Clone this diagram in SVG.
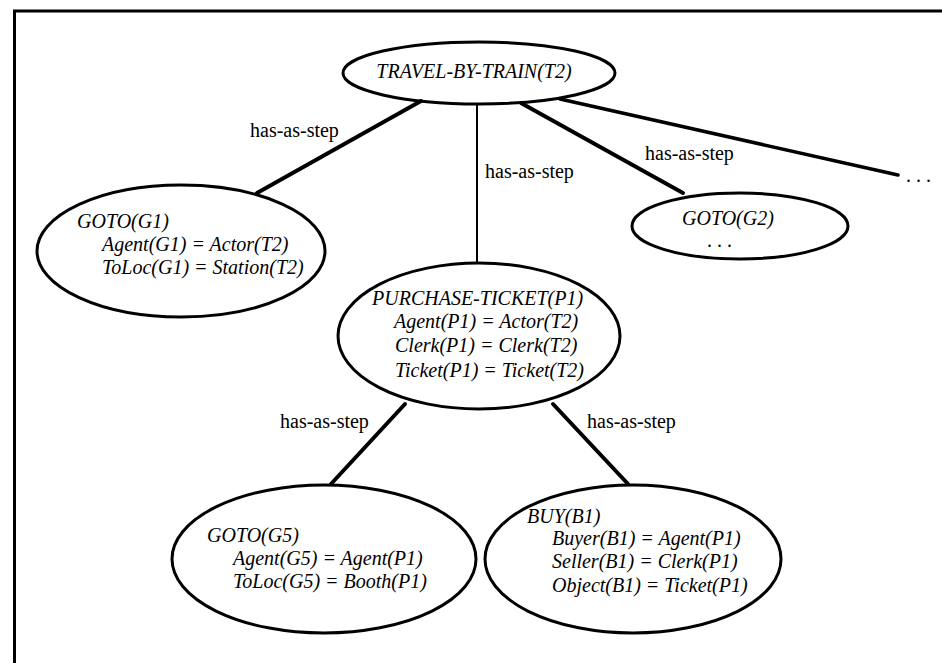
<svg xmlns="http://www.w3.org/2000/svg" width="942" height="663" viewBox="0 0 942 663">
  <style>
    .node { fill: none; stroke: #000; stroke-width: 3; }
    .t { font-family: "Liberation Serif", "Times New Roman", serif; font-size: 20px; font-style: italic; fill: #000; }
    .lbl { font-family: "Liberation Serif", "Times New Roman", serif; font-size: 20px; fill: #000; }
    .edge { stroke: #000; stroke-linecap: round; fill: none; }
  </style>
  <rect width="942" height="663" fill="#fff"/>

  <!-- frame -->
  <g id="frame" fill="none" stroke="#000" stroke-width="3">
    <path d="M14.5 663 V11 H942"/>
  </g>

  <!-- connectors -->
  <g id="connectors">
    <line class="edge" x1="421" y1="101" x2="257" y2="193" stroke-width="4"/>
    <line class="edge" x1="477" y1="105" x2="477" y2="263" stroke-width="2"/>
    <line class="edge" x1="521" y1="103" x2="683" y2="193" stroke-width="4"/>
    <line class="edge" x1="560" y1="99" x2="898" y2="175" stroke-width="3.5"/>
    <line class="edge" x1="405" y1="404" x2="331" y2="484" stroke-width="4"/>
    <line class="edge" x1="553" y1="404" x2="628" y2="484" stroke-width="4"/>
    <text class="lbl" x="250" y="137">has-as-step</text>
    <text class="lbl" x="485" y="178">has-as-step</text>
    <text class="lbl" x="645" y="160">has-as-step</text>
    <text class="lbl" x="280" y="428">has-as-step</text>
    <text class="lbl" x="587" y="428">has-as-step</text>
    <text class="lbl" x="906" y="182">. . .</text>
  </g>

  <g id="travel-by-train">
    <ellipse class="node" cx="479" cy="73" rx="136" ry="31"/>
    <text class="t" x="474" y="78" text-anchor="middle">TRAVEL-BY-TRAIN(T2)</text>
  </g>

  <g id="goto-g1">
    <ellipse class="node" cx="181" cy="251" rx="144" ry="66"/>
    <text class="t" x="77" y="228">GOTO(G1)</text>
    <text class="t" x="102" y="251">Agent(G1) = Actor(T2)</text>
    <text class="t" x="102" y="274">ToLoc(G1) = Station(T2)</text>
  </g>

  <g id="goto-g2">
    <ellipse class="node" cx="740" cy="226" rx="108" ry="33"/>
    <text class="t" x="682" y="225">GOTO(G2)</text>
    <text class="lbl" x="707" y="247">. . .</text>
  </g>

  <g id="purchase-ticket">
    <ellipse class="node" cx="479" cy="336" rx="141" ry="73"/>
    <text class="t" x="372" y="305">PURCHASE-TICKET(P1)</text>
    <text class="t" x="394" y="328">Agent(P1) = Actor(T2)</text>
    <text class="t" x="395" y="352">Clerk(P1) = Clerk(T2)</text>
    <text class="t" x="395" y="377">Ticket(P1) = Ticket(T2)</text>
  </g>

  <g id="goto-g5">
    <ellipse class="node" cx="324" cy="559" rx="152" ry="74"/>
    <text class="t" x="207" y="542">GOTO(G5)</text>
    <text class="t" x="233" y="565">Agent(G5) = Agent(P1)</text>
    <text class="t" x="233" y="588">ToLoc(G5) = Booth(P1)</text>
  </g>

  <g id="buy-b1">
    <ellipse class="node" cx="633" cy="559" rx="148" ry="74"/>
    <text class="t" x="527" y="523">BUY(B1)</text>
    <text class="t" x="552" y="545">Buyer(B1) = Agent(P1)</text>
    <text class="t" x="552" y="568">Seller(B1) = Clerk(P1)</text>
    <text class="t" x="552" y="592">Object(B1) = Ticket(P1)</text>
  </g>
</svg>
